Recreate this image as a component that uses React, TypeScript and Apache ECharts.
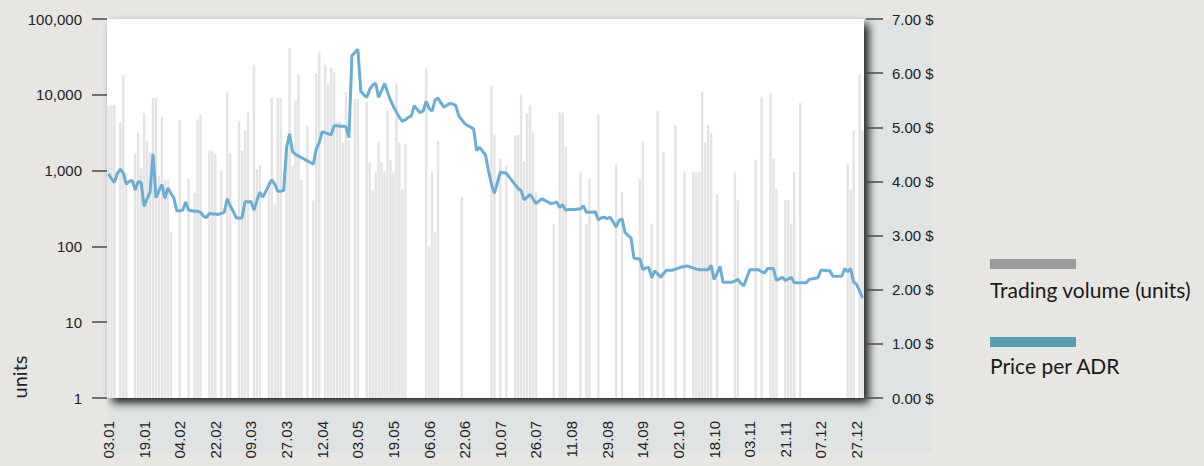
import React, { useEffect, useRef } from 'react';
import * as echarts from 'echarts';

const tickLabels = ['03.01', '19.01', '04.02', '22.02', '09.03', '27.03', '12.04', '03.05', '19.05', '06.06', '22.06',
  '10.07', '26.07', '11.08', '29.08', '14.09', '02.10', '18.10', '03.11', '21.11', '07.12', '27.12'];

// Daily trading volume (units); 0 = no trade that day
const volume = [
  7200, 7200, 7300, 0, 4330, 18100, 950, 0, 0, 1690,
  3150, 1070, 5700, 2420, 1740, 9050, 9050, 860, 5130, 760,
  760, 153, 0, 0, 4600, 0, 0, 780, 0, 512,
  4700, 5440, 0, 0, 1840, 1840, 1650, 0, 1000, 0,
  10700, 1690, 0, 0, 4500, 1840, 3350, 5800, 0, 24800,
  1050, 1160, 0, 0, 740, 9230, 357, 9230, 9230, 0,
  1930, 41100, 1160, 8330, 18700, 750, 0, 3890, 0, 403,
  19300, 36800, 0, 24800, 13800, 22900, 19700, 4420, 4420, 2350,
  10950, 2500, 0, 8800, 8800, 0, 0, 8100, 1290, 545,
  950, 2350, 1290, 980, 6150, 1370, 950, 14200, 2350, 570,
  2250, 0, 0, 0, 0, 0, 0, 22400, 98, 950,
  154, 2420, 0, 0, 0, 0, 0, 0, 0, 445,
  0, 0, 0, 0, 0, 0, 0, 0, 0, 13100,
  2980, 0, 1425, 0, 1160, 0, 0, 2900, 2950, 10000,
  1330, 5700, 7310, 3200, 520, 0, 0, 0, 0, 0,
  195, 0, 5860, 5860, 2070, 0, 0, 0, 0, 950,
  0, 200, 780, 0, 0, 5440, 0, 0, 0, 0,
  0, 1200, 0, 530, 0, 0, 0, 0, 0, 780,
  2420, 0, 0, 200, 0, 6150, 0, 1780, 0, 0,
  0, 4000, 0, 0, 970, 0, 0, 970, 940, 970,
  10950, 2350, 4000, 3130, 0, 490, 0, 0, 0, 0,
  0, 950, 403, 0, 0, 0, 0, 0, 1390, 0,
  9230, 0, 0, 10600, 1425, 570, 0, 0, 410, 410,
  200, 950, 0, 7800, 0, 0, 0, 0, 0, 0,
  0, 0, 0, 0, 0, 0, 0, 0, 0, 1240,
  570, 3350, 0, 18700, 3350,
];

// Price per ADR ($)
const price = [
  4.14, 4.05, 3.98, 4.15, 4.23, 4.15, 3.95, 4.00, 4.02, 3.84,
  4.00, 3.98, 3.54, 3.68, 3.80, 4.51, 3.70, 3.83, 3.94, 3.69,
  3.88, 3.78, 3.70, 3.46, 3.46, 3.47, 3.62, 3.47, 3.46, 3.45,
  3.45, 3.43, 3.36, 3.33, 3.41, 3.40, 3.40, 3.39, 3.41, 3.43,
  3.68, 3.55, 3.45, 3.33, 3.32, 3.33, 3.63, 3.62, 3.63, 3.47,
  3.65, 3.80, 3.71, 3.82, 3.93, 4.03, 3.95, 3.82, 3.82, 3.83,
  4.63, 4.88, 4.55, 4.50, 4.47, 4.44, 4.41, 4.38, 4.35, 4.32,
  4.60, 4.72, 4.92, 4.90, 4.88, 4.86, 5.03, 5.03, 5.02, 5.02,
  5.01, 4.81, 6.32, 6.38, 6.44, 5.66, 5.60, 5.55, 5.70, 5.78,
  5.81, 5.55, 5.68, 5.81, 5.65, 5.50, 5.38, 5.28, 5.18, 5.11,
  5.14, 5.18, 5.21, 5.40, 5.33, 5.27, 5.30, 5.48, 5.35, 5.30,
  5.50, 5.54, 5.45, 5.37, 5.41, 5.44, 5.43, 5.40, 5.21, 5.14,
  5.07, 5.03, 5.00, 4.97, 4.57, 4.63, 4.56, 4.49, 4.20, 3.95,
  3.78, 3.98, 4.17, 4.16, 4.15, 4.08, 4.01, 3.94, 3.87, 3.83,
  3.66, 3.71, 3.76, 3.68, 3.59, 3.64, 3.68, 3.65, 3.62, 3.59,
  3.60, 3.62, 3.52, 3.57, 3.47, 3.48, 3.48, 3.48, 3.49, 3.49,
  3.55, 3.43, 3.43, 3.43, 3.44, 3.29, 3.33, 3.34, 3.31, 3.34,
  3.25, 3.16, 3.28, 3.31, 3.06, 3.00, 2.96, 2.59, 2.57, 2.57,
  2.37, 2.40, 2.41, 2.22, 2.35, 2.29, 2.23, 2.30, 2.36, 2.36,
  2.36, 2.38, 2.40, 2.42, 2.43, 2.44, 2.42, 2.40, 2.38, 2.37,
  2.37, 2.37, 2.37, 2.45, 2.19, 2.30, 2.43, 2.14, 2.14, 2.14,
  2.14, 2.16, 2.19, 2.12, 2.07, 2.22, 2.37, 2.37, 2.37, 2.37,
  2.33, 2.31, 2.39, 2.39, 2.39, 2.17, 2.20, 2.23, 2.17, 2.20,
  2.23, 2.13, 2.13, 2.13, 2.13, 2.13, 2.19, 2.20, 2.21, 2.22,
  2.36, 2.36, 2.35, 2.35, 2.25, 2.25, 2.25, 2.25, 2.39, 2.33,
  2.39, 2.14, 2.10, 1.98, 1.85,
];

const LABEL_EVERY = 12;
const days = volume.map((_, i) => (i % LABEL_EVERY === 0 ? tickLabels[i / LABEL_EVERY] : ''));

const AXIS_FONT = "'Liberation Sans', Arial, sans-serif";
const LEGEND_FONT = "Lato, 'Noto Sans', sans-serif";

export default function App() {
  const ref = useRef<HTMLDivElement>(null);

  useEffect(() => {
    document.body.style.margin = '0';
    const chart = echarts.init(ref.current as HTMLDivElement, null, { renderer: 'svg' });
    chart.setOption({
      animation: false,
      backgroundColor: 'transparent',
      textStyle: { fontFamily: AXIS_FONT },
      grid: {
        left: 107, right: 340, top: 19, bottom: 68,
        show: true, backgroundColor: '#ffffff', borderWidth: 0,
        shadowColor: 'rgba(0,0,0,0.85)', shadowBlur: 8, shadowOffsetX: 5, shadowOffsetY: 5,
      },
      xAxis: {
        type: 'category',
        data: days,
        boundaryGap: true,
        axisLine: { show: false },
        axisTick: { show: false },
        splitLine: { show: false },
        axisLabel: {
          interval: LABEL_EVERY - 1, rotate: 90, margin: 23, fontSize: 15, color: '#222',
          fontFamily: AXIS_FONT,
        },
      },
      yAxis: [
        {
          type: 'log', logBase: 10, min: 1, max: 100000, position: 'left',
          axisLine: { show: false },
          axisTick: { show: true, length: 15, lineStyle: { color: '#4a4a4a', width: 1.5 } },
          splitLine: { show: false },
          axisLabel: {
            margin: 25, fontSize: 15, color: '#222', fontFamily: AXIS_FONT,
            formatter: (v: number) => Math.round(v).toLocaleString('en-US'),
          },
        },
        {
          type: 'value', min: 0, max: 7, interval: 1, position: 'right', offset: 2,
          axisLine: { show: false },
          axisTick: { show: true, length: 17, lineStyle: { color: '#4a4a4a', width: 1.5 } },
          splitLine: { show: false },
          axisLabel: {
            margin: 26, fontSize: 15, color: '#222', fontFamily: AXIS_FONT,
            formatter: (v: number) => v.toFixed(2) + ' $',
          },
        },
      ],
      series: [
        {
          name: 'Trading volume (units)',
          type: 'bar', yAxisIndex: 0,
          data: volume.map((v) => (v > 0 ? v : '-')),
          barWidth: '82%',
          itemStyle: { color: '#e4e4e4' },
          silent: true,
        },
        {
          name: 'Price per ADR',
          type: 'line', yAxisIndex: 1,
          data: price,
          showSymbol: false,
          lineStyle: { color: '#6aaed6', width: 3 },
          itemStyle: { color: '#6aaed6' },
          z: 3,
        },
      ],
      graphic: [
        { type: 'rect', shape: { x: 990, y: 259, width: 86, height: 10 }, style: { fill: '#9c9c9c' } },
        {
          type: 'text', x: 990, y: 289,
          style: { text: 'Trading volume (units)', fontSize: 21, fontFamily: LEGEND_FONT, fill: '#1a1a1a', verticalAlign: 'middle' },
        },
        { type: 'rect', shape: { x: 990, y: 337, width: 86, height: 10 }, style: { fill: '#55a0b2' } },
        {
          type: 'text', x: 990, y: 365,
          style: { text: 'Price per ADR', fontSize: 21, fontFamily: LEGEND_FONT, fill: '#1a1a1a', verticalAlign: 'middle' },
        },
        {
          type: 'text', x: 19, y: 377, rotation: Math.PI / 2,
          style: { text: 'units', fontSize: 20, fontFamily: LEGEND_FONT, fill: '#222', align: 'center', verticalAlign: 'middle' },
        },
      ],
    });
    return () => chart.dispose();
  }, []);

  return (
    <div style={{ position: 'relative', width: 1204, height: 466, background: '#e8e6e3', overflow: 'hidden' }}>
      <div style={{ position: 'absolute', left: 107, top: 20, width: 825, height: 433, background: '#dfe3e3' }} />
      <div ref={ref} style={{ position: 'absolute', left: 0, top: 0, width: 1204, height: 466 }} />
    </div>
  );
}
